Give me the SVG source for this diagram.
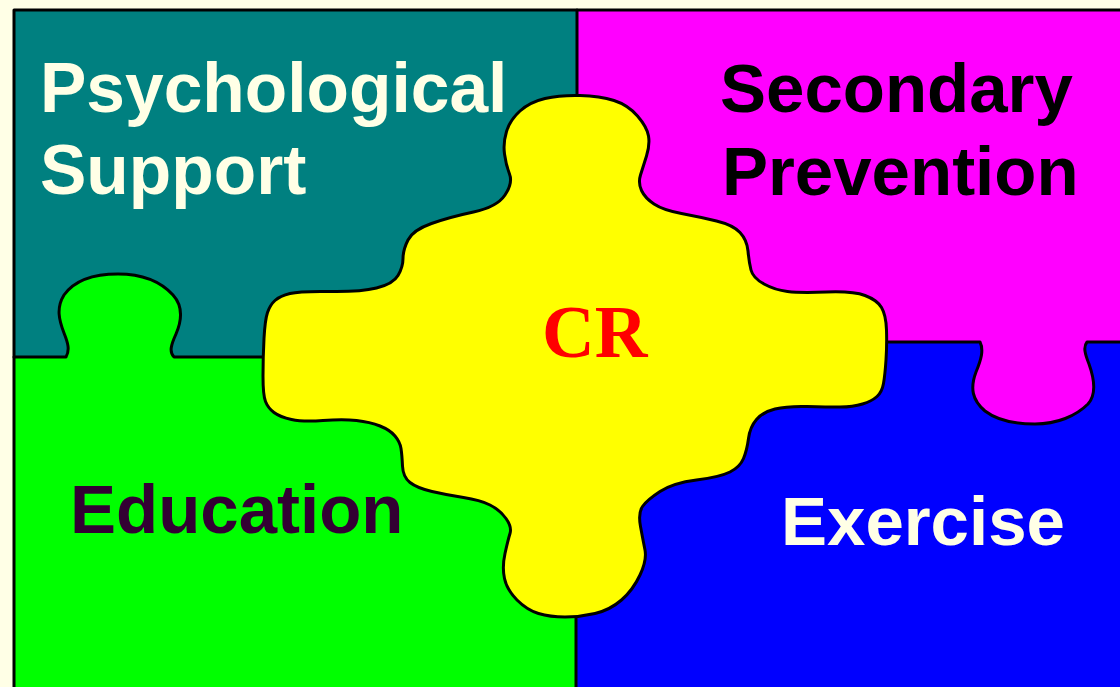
<svg xmlns="http://www.w3.org/2000/svg" width="1120" height="687" viewBox="0 0 1120 687">
<style>
.lbl{font-family:"Liberation Sans",Arial,sans-serif;font-weight:bold;font-size:69px}
.cream{fill:#FFFFE6}
.edge{fill:none;stroke:#000;stroke-width:3;stroke-linejoin:round;stroke-linecap:round}
</style>
<rect x="0" y="0" width="1120" height="687" fill="#FFFFE6"/>
<g id="psychological-support">
<rect x="14" y="10" width="563" height="347" fill="#008080"/>
<text class="lbl cream" x="40" y="112" style="font-size:69.5px">Psychological</text>
<text class="lbl cream" x="40" y="194" style="font-size:69.5px">Support</text>
</g>
<g id="exercise">
<rect x="576" y="342" width="544" height="345" fill="#0000FF"/>
<text class="lbl cream" x="781" y="545">Exercise</text>
</g>
<g id="secondary-prevention">
<path d="M577,10 L1120,10 L1120,342 L1087,342 C1083,347 1085,354 1089,364 C1094,378 1097,394 1088,404 C1076,416 1057,424 1035,424 C1015,424 998,421 985,411 C972,400 970,388 976,372 C981,360 984,350 980,342 L577,342 Z" fill="#FF00FF"/>
<text class="lbl" x="720" y="112" fill="#000">Secondary</text>
<text class="lbl" x="722" y="195" fill="#000">Prevention</text>
</g>
<g id="education">
<path d="M14,357 L66,357 C70,350 68,343 64,333 C59,320 56,308 64,295 C74,281 92,274 118,274 C144,274 162,283 173,295 C183,306 182,320 176,334 C171,345 169,352 174,357 L576,357 L576,687 L14,687 Z" fill="#00FF00"/>
<text class="lbl" x="70" y="533" fill="#330033">Education</text>
</g>
<g id="connectors">
<path class="edge" d="M14,357 L66,357 C70,350 68,343 64,333 C59,320 56,308 64,295 C74,281 92,274 118,274 C144,274 162,283 173,295 C183,306 182,320 176,334 C171,345 169,352 174,357 L300,357"/>
<path class="edge" d="M860,342 L980,342 C984,350 981,360 976,372 C970,388 972,400 985,411 C998,421 1015,424 1035,424 C1057,424 1076,416 1088,404 C1097,394 1094,378 1089,364 C1085,354 1083,347 1087,342 L1122,342"/>
<path class="edge" d="M577,10 L577,200"/>
<path class="edge" d="M576,560 L576,690"/>
<path class="edge" d="M14,690 L14,10 L1122,10"/>
</g>
<g id="cr">
<path class="edge" style="fill:#FFFF00" d="M505,195 Q513,183 509.5,174 Q506,165 504.5,154 Q503,143 506.5,131.5 Q510,120 520,111 Q530,102 545,98.5 Q560,95 580,95.5 Q600,96 614,100.5 Q628,105 637.5,116 Q647,127 648.5,136 Q650,145 646.5,156 Q643,167 640.5,175 Q638,183 641.5,190.5 Q645,198 654,204 Q663,210 681.5,213.5 Q700,217 716.5,221 Q733,225 740,232.5 Q747,240 748,251 Q749,262 751,270 Q753,278 764,284 Q775,290 787.5,291.5 Q800,293 826.5,292 Q853,291 865,295.5 Q877,300 881.5,307.5 Q886,315 886.5,330 Q887,345 886,360 Q885,375 883.5,383.5 Q882,392 877,396.5 Q872,401 862.5,404 Q853,407 840,407 Q827,407 807,406.5 Q787,406 775,409 Q763,412 756.5,419.5 Q750,427 748.5,438.5 Q747,450 743.5,458.5 Q740,467 730,472 Q720,477 696.5,480 Q673,483 660,491.5 Q647,500 642.5,506.5 Q638,513 640.5,526.5 Q643,540 645,550 Q647,560 640,575 Q633,590 621.5,600 Q610,610 595,613.5 Q580,617 565,617 Q550,617 538.5,613.5 Q527,610 517,600 Q507,590 504.5,578.5 Q502,567 505,553.5 Q508,540 510,533.5 Q512,527 506,518.5 Q500,510 490,505 Q480,500 463.5,497.5 Q447,495 432,491.5 Q417,488 410,482.5 Q403,477 402.5,466 Q402,455 401,448.5 Q400,442 395,436 Q390,430 380,426 Q370,422 356.5,420.5 Q343,419 323,420.5 Q303,422 291.5,419.5 Q280,417 274,412.5 Q268,408 265.5,401.5 Q263,395 263,376 Q263,357 264,338.5 Q265,320 267.5,312.5 Q270,305 275,300.5 Q280,296 290,293.5 Q300,291 330,291.5 Q360,292 376.5,288 Q393,284 398,275.5 Q403,267 403,258.5 Q403,250 408,240 Q413,230 431.5,223.5 Q450,217 473.5,212 Q497,207 505,195 Z"/>
<text x="542" y="357" fill="#FF0000" style="font-family:'Liberation Serif','Times New Roman',serif;font-weight:bold;font-size:73px">CR</text>
</g>
</svg>
